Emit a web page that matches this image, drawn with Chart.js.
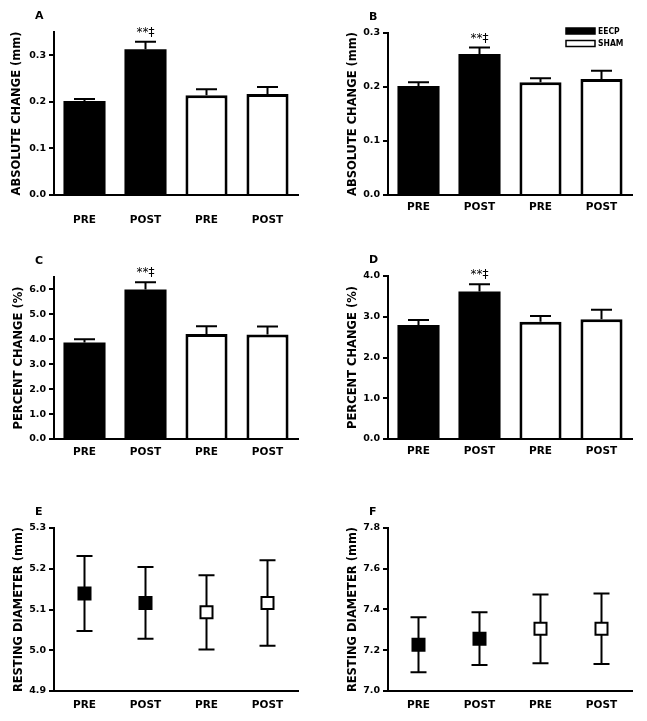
<!DOCTYPE html>
<html>
<head>
<meta charset="utf-8">
<script src="https://cdn.jsdelivr.net/npm/chart.js@4.4.1/dist/chart.umd.min.js"></script>
<style>
  html, body { margin: 0; padding: 0; background: #fff; overflow: hidden; }
  .panel { position: absolute; }
</style>
</head>
<body>
<div class="panel" id="boxA"><canvas id="chartA"></canvas></div>
<div class="panel" id="boxB"><canvas id="chartB"></canvas></div>
<div class="panel" id="boxC"><canvas id="chartC"></canvas></div>
<div class="panel" id="boxD"><canvas id="chartD"></canvas></div>
<div class="panel" id="boxE"><canvas id="chartE"></canvas></div>
<div class="panel" id="boxF"><canvas id="chartF"></canvas></div>
<script>
// Data
const categories = ['PRE', 'POST', 'PRE', 'POST'];
const groupColors = ['#000000', '#000000', '#ffffff', '#ffffff'];
const legendLabels = ['EECP', 'SHAM'];
const legendColors = ['#000000', '#ffffff'];
const sigMark = '**\u2021';

const absChangeA = [0.202, 0.313, 0.214, 0.217];
const absErrA = [0.004, 0.016, 0.013, 0.015];
const absChangeB = [0.202, 0.261, 0.209, 0.215];
const absErrB = [0.007, 0.012, 0.007, 0.015];
const pctChangeC = [3.87, 6.00, 4.21, 4.19];
const pctErrC = [0.13, 0.29, 0.31, 0.32];
const pctChangeD = [2.80, 3.62, 2.88, 2.94];
const pctErrD = [0.12, 0.18, 0.14, 0.23];
const restDiamE = [5.139, 5.116, 5.093, 5.116];
const restErrE = [0.092, 0.088, 0.091, 0.105];
const restDiamF = [7.227, 7.257, 7.305, 7.305];
const restErrF = [0.135, 0.129, 0.169, 0.173];

const ticksA = [0.0, 0.1, 0.2, 0.3];
const ticksB = [0.0, 0.1, 0.2, 0.3];
const ticksC = [0.0, 1.0, 2.0, 3.0, 4.0, 5.0, 6.0];
const ticksD = [0.0, 1.0, 2.0, 3.0, 4.0];
const ticksE = [4.9, 5.0, 5.1, 5.2, 5.3];
const ticksF = [7.0, 7.2, 7.4, 7.6, 7.8];

// Panel setup (page coordinates of each box and its plot area)
const panels = [
  { letter: 'A', kind: 'bars', values: absChangeA, errors: absErrA, ticks: ticksA, min: 0, max: 0.35,
    title: 'ABSOLUTE CHANGE (mm)', box: [0, 0, 313, 240], area: [54, 32, 298, 195], labelPad: 19, titleX: 17 },
  { letter: 'B', kind: 'bars', values: absChangeB, errors: absErrB, ticks: ticksB, min: 0, max: 0.3,
    title: 'ABSOLUTE CHANGE (mm)', box: [334, 0, 313, 240], area: [388, 33, 632, 195], labelPad: 6, titleX: 353, legend: true },
  { letter: 'C', kind: 'bars', values: pctChangeC, errors: pctErrC, ticks: ticksC, min: 0, max: 6.5,
    title: 'PERCENT CHANGE (%)', box: [0, 240, 313, 240], area: [54, 277, 298, 439], labelPad: 7, titleX: 19.5 },
  { letter: 'D', kind: 'bars', values: pctChangeD, errors: pctErrD, ticks: ticksD, min: 0, max: 4.0,
    title: 'PERCENT CHANGE (%)', box: [334, 240, 313, 240], area: [388, 276, 632, 439], labelPad: 6, titleX: 353.5 },
  { letter: 'E', kind: 'points', values: restDiamE, errors: restErrE, ticks: ticksE, min: 4.9, max: 5.3,
    title: 'RESTING DIAMETER (mm)', box: [0, 480, 313, 241], area: [54, 528, 298, 691], labelPad: 8, titleX: 19 },
  { letter: 'F', kind: 'points', values: restDiamF, errors: restErrF, ticks: ticksF, min: 7.0, max: 7.8,
    title: 'RESTING DIAMETER (mm)', box: [334, 480, 313, 241], area: [388, 528, 632, 691], labelPad: 8, titleX: 353.5 }
];

const FONT = "'DejaVu Sans', sans-serif";
Chart.defaults.font.family = FONT;
Chart.defaults.color = '#000';

// error bars: one-sided on top of bars, two-sided on points
function drawErrors(chart, p) {
  const ctx = chart.ctx;
  const xs = chart.scales.x, ys = chart.scales.y;
  const both = p.kind === 'points';
  const half = both ? 8 : 10.5;
  ctx.save();
  ctx.strokeStyle = '#000';
  ctx.lineWidth = 2;
  p.values.forEach((v, i) => {
    const x = xs.getPixelForValue(i);
    const yTop = ys.getPixelForValue(v + p.errors[i]);
    const yBot = ys.getPixelForValue(both ? v - p.errors[i] : v);
    ctx.beginPath();
    ctx.moveTo(x, yBot);
    ctx.lineTo(x, yTop);
    ctx.moveTo(x - half, yTop);
    ctx.lineTo(x + half, yTop);
    if (both) {
      ctx.moveTo(x - half, yBot);
      ctx.lineTo(x + half, yBot);
    }
    ctx.stroke();
  });
  ctx.restore();
}

function makeExtras(p) {
  return {
    id: 'extras' + p.letter,
    beforeDatasetsDraw(chart) {
      if (p.kind === 'points') drawErrors(chart, p);
    },
    afterDatasetsDraw(chart) {
      const ctx = chart.ctx;
      const area = chart.chartArea;
      if (p.kind === 'bars') {
        drawErrors(chart, p);
        // significance mark over the POST EECP bar
        const x = chart.scales.x.getPixelForValue(1);
        const y = chart.scales.y.getPixelForValue(p.values[1] + p.errors[1]);
        ctx.save();
        ctx.font = '12px ' + FONT;
        ctx.fillStyle = '#000';
        ctx.textAlign = 'center';
        ctx.textBaseline = 'bottom';
        ctx.fillText(sigMark, x, y - 3);
        ctx.restore();
      }
      // panel letter
      ctx.save();
      ctx.font = 'bold 11px ' + FONT;
      ctx.fillStyle = '#000';
      ctx.textAlign = 'left';
      ctx.textBaseline = 'alphabetic';
      ctx.fillText(p.letter, area.left - 19, area.top - 13);
      ctx.restore();
      if (p.legend) {
        ctx.save();
        legendLabels.forEach((lab, i) => {
          const bx = area.right - 66, by = area.top - 5 + i * 12.5;
          ctx.fillStyle = legendColors[i];
          ctx.fillRect(bx, by, 29, 6);
          ctx.strokeStyle = '#000';
          ctx.lineWidth = 1.5;
          ctx.strokeRect(bx, by, 29, 6);
          ctx.fillStyle = '#000';
          ctx.font = "bold 8.5px 'Liberation Sans Narrow', 'DejaVu Sans Condensed', sans-serif";
          ctx.textAlign = 'left';
          ctx.textBaseline = 'middle';
          ctx.fillText(lab, bx + 32, by + 3.5);
        });
        ctx.restore();
      }
    }
  };
}

function buildPanel(p) {
  const [bl, bt, bw, bh] = p.box;
  const [al, at, ar, ab] = p.area;
  const box = document.getElementById('box' + p.letter);
  box.style.left = bl + 'px';
  box.style.top = bt + 'px';
  box.style.width = bw + 'px';
  box.style.height = bh + 'px';

  const yWidth = al - bl;
  const xHeight = bt + bh - ab;
  const titleLine = 11.5 * 1.2;

  let dataset;
  if (p.kind === 'bars') {
    // solid bars need no outline (avoids a seam), open bars get a thick one
    dataset = {
      data: p.values,
      backgroundColor: groupColors,
      borderColor: '#000',
      borderWidth: groupColors.map(c => c === '#000000' ? 0 : 3),
      barPercentage: 0.69,
      categoryPercentage: 1.0
    };
  } else {
    dataset = {
      data: p.values,
      showLine: false,
      pointStyle: 'rect',
      pointRadius: 8.5,
      pointBackgroundColor: groupColors,
      pointBorderColor: '#000',
      pointBorderWidth: 2
    };
  }

  new Chart(document.getElementById('chart' + p.letter), {
    type: p.kind === 'bars' ? 'bar' : 'line',
    data: { labels: categories, datasets: [dataset] },
    options: {
      responsive: true,
      maintainAspectRatio: false,
      animation: false,
      events: [],
      layout: { padding: { left: 0, top: at - bt, right: bl + bw - ar, bottom: 0 } },
      plugins: { legend: { display: false }, tooltip: { enabled: false } },
      scales: {
        x: {
          type: 'category',
          offset: true,
          grid: { display: false, drawTicks: false },
          border: { display: true, color: '#000', width: 2 },
          ticks: { padding: p.labelPad, font: { size: 10.5, weight: 'bold' }, color: '#000' },
          afterFit: (scale) => { scale.height = xHeight; }
        },
        y: {
          min: p.min,
          max: p.max,
          grid: { drawOnChartArea: false, drawTicks: true, tickLength: 5, color: '#000', lineWidth: 2 },
          border: { display: true, color: '#000', width: 2 },
          ticks: {
            padding: 3,
            font: { size: 9.5, weight: 'bold' },
            color: '#000',
            callback: (v) => Number(v).toFixed(1)
          },
          afterBuildTicks: (scale) => { scale.ticks = p.ticks.map(v => ({ value: v })); },
          title: {
            display: true,
            text: p.title,
            color: '#000',
            font: { size: 11.5, weight: 'bold' },
            padding: { top: p.titleX - bl - titleLine / 2, bottom: 0 }
          },
          afterFit: (scale) => { scale.width = yWidth; }
        }
      }
    },
    plugins: [makeExtras(p)]
  });
}

panels.forEach(buildPanel);
</script>
</body>
</html>
